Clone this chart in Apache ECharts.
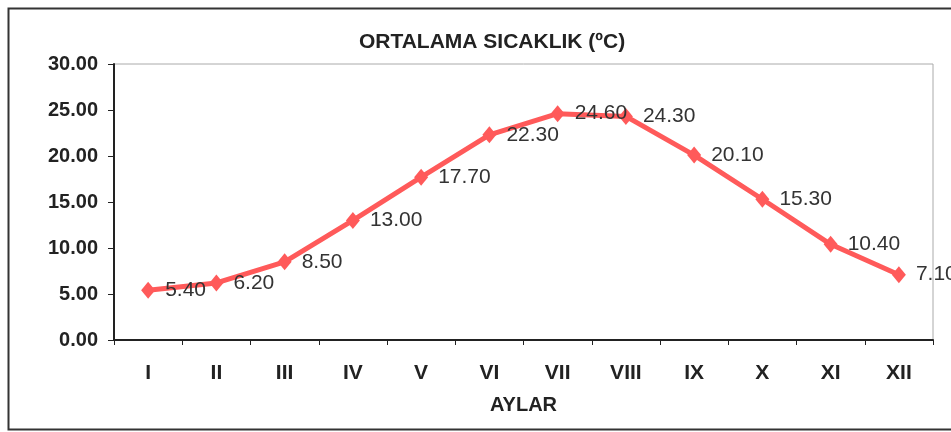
<!DOCTYPE html>
<html>
<head>
<meta charset="utf-8">
<script src="https://cdn.jsdelivr.net/npm/echarts@6/dist/echarts.min.js"></script>
<style>
  html, body { margin: 0; padding: 0; background: #fff; }
  #chart { width: 951px; height: 432px; }
</style>
</head>
<body>
<div id="chart"></div>
<script>
var months = ['I', 'II', 'III', 'IV', 'V', 'VI', 'VII', 'VIII', 'IX', 'X', 'XI', 'XII'];
var temps = [5.4, 6.2, 8.5, 13.0, 17.7, 22.3, 24.6, 24.3, 20.1, 15.3, 10.4, 7.1];

var font = 'Liberation Sans';

var myChart = echarts.init(document.getElementById('chart'));

var option = {
    backgroundColor: '#fff',
    animation: false,
    title: {
        text: 'ORTALAMA SICAKLIK (ºC)',
        left: 487,
        top: 27,
        textAlign: 'center',
        textStyle: {
            fontFamily: font,
            fontWeight: 'bold',
            fontSize: 21,
            color: '#222'
        }
    },
    // outer frame of the scanned figure
    graphic: [{
        type: 'rect',
        shape: { x: 8.5, y: 8.5, width: 960, height: 421 },
        style: { fill: null, stroke: '#333', lineWidth: 2 },
        silent: true
    }],
    grid: {
        left: 114,
        right: 18,
        top: 64,
        bottom: 92,
        show: true,
        borderColor: '#aaa',
        borderWidth: 1
    },
    xAxis: {
        type: 'category',
        data: months,
        boundaryGap: true,
        name: 'AYLAR',
        nameLocation: 'middle',
        nameGap: 55,
        nameTextStyle: {
            fontFamily: font,
            fontWeight: 'bold',
            fontSize: 20,
            color: '#222'
        },
        axisLine: { lineStyle: { color: '#222', width: 2 } },
        axisTick: { show: true, length: 5, inside: false, lineStyle: { color: '#222' } },
        axisLabel: {
            margin: 23,
            fontFamily: font,
            fontWeight: 'bold',
            fontSize: 21,
            color: '#222'
        },
        splitLine: { show: false }
    },
    yAxis: {
        type: 'value',
        min: 0,
        max: 30,
        interval: 5,
        axisLine: { show: true, lineStyle: { color: '#222', width: 2 } },
        axisTick: { show: true, length: 6, lineStyle: { color: '#222' } },
        axisLabel: {
            margin: 16,
            fontFamily: font,
            fontWeight: 'bold',
            fontSize: 20,
            color: '#222',
            formatter: function (v) { return v.toFixed(2); }
        },
        splitLine: { show: false }
    },
    series: [{
        type: 'line',
        data: temps,
        symbol: 'diamond',
        symbolSize: [14, 17],
        itemStyle: { color: '#ff5a5a' },
        lineStyle: { color: '#ff5a5a', width: 5 },
        label: {
            show: true,
            position: 'right',
            distance: 10,
            fontFamily: font,
            fontSize: 21,
            color: '#333',
            formatter: function (p) { return p.value.toFixed(2); }
        }
    }]
};

myChart.setOption(option);
</script>
</body>
</html>
